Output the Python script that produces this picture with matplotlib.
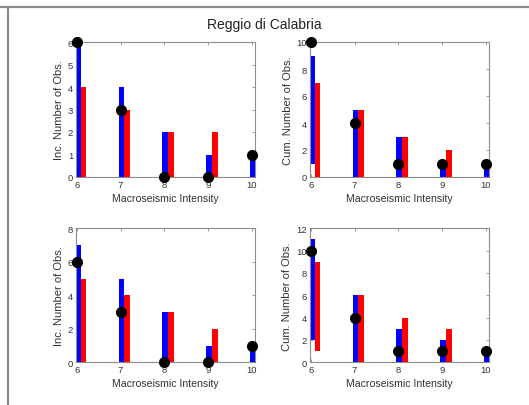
import matplotlib
matplotlib.use("Agg")
import matplotlib.pyplot as plt
from matplotlib.lines import Line2D
import numpy as np

plt.rcParams['font.family'] = ['Liberation Sans', 'DejaVu Sans']

intensity = [6, 7, 8, 9, 10]
title = "Reggio di Calabria"
xlabel = "Macroseismic Intensity"

# Incremental counts (top row)
inc_top_blue = [6, 4, 2, 1, 1]
inc_top_red = [4, 3, 2, 2, 0]
inc_top_obs = [6, 3, 0, 0, 1]

# Cumulative counts (top row); bars at intensity 6 start above zero
cum_top_blue = [9, 5, 3, 1, 1]
cum_top_blue_base = [1, 0, 0, 0, 0]
cum_top_red = [7, 5, 3, 2, 0]
cum_top_red_base = [0, 0, 0, 0, 0]
cum_top_obs = [10, 4, 1, 1, 1]

# Incremental counts (bottom row)
inc_bot_blue = [7, 5, 3, 1, 1]
inc_bot_red = [5, 4, 3, 2, 0]
inc_bot_obs = [6, 3, 0, 0, 1]

# Cumulative counts (bottom row)
cum_bot_blue = [11, 6, 3, 2, 1]
cum_bot_blue_base = [2, 0, 0, 0, 0]
cum_bot_red = [9, 6, 4, 3, 0]
cum_bot_red_base = [1, 0, 0, 0, 0]
cum_bot_obs = [10, 4, 1, 1, 1]

W, H = 529, 406
fig = plt.figure(figsize=(W / 100, H / 100), dpi=100)

# Frame lines along the top and left of the figure
fig.add_artist(Line2D([0, 1], [1 - 7.5 / H, 1 - 7.5 / H], color='#8a8a8a', lw=1.6,
                      transform=fig.transFigure))
fig.add_artist(Line2D([7.5 / W, 7.5 / W], [0, 1 - 7.5 / H], color='#8a8a8a', lw=1.6,
                      transform=fig.transFigure))

fig.text(0.5, 1 - 25 / H, title, ha='center', va='center', fontsize=10, color='#222222')

spine_col = '#8c8c8c'
text_col = '#333333'


def panel(rect, blue, red, obs, ylabel, ymax, ystep, blue_base=None, red_base=None):
    ax = fig.add_axes(rect)
    x = np.array(intensity, dtype=float)
    bw = 0.13
    bb = blue_base if blue_base is not None else [0] * len(x)
    rb = red_base if red_base is not None else [0] * len(x)
    bh = np.array(blue) - np.array(bb)
    rh = np.array(red) - np.array(rb)
    ax.bar(x + 0.02, bh, width=bw, bottom=bb, color='#0000ff', linewidth=0, zorder=2)
    ax.bar(x + 0.02 + bw, rh, width=bw, bottom=rb, color='#ff0000', linewidth=0, zorder=2)
    ax.plot(x, obs, 'o', color='black', markersize=7, zorder=4, clip_on=False)
    ax.set_xlim(5.98, 10.07)
    ax.set_ylim(0, ymax)
    ax.set_xticks(intensity)
    ax.set_xticklabels([str(v) for v in intensity])
    ax.set_yticks(np.arange(0, ymax + 0.01, ystep))
    ax.tick_params(direction='in', length=2.5, width=0.6, colors=spine_col,
                   labelcolor=text_col, labelsize=6.8, top=True, right=True, pad=2)
    for s in ax.spines.values():
        s.set_color(spine_col)
        s.set_linewidth(0.8)
    ax.set_xlabel(xlabel, fontsize=7.6, color=text_col, labelpad=3)
    ax.set_ylabel(ylabel, fontsize=8.0, color=text_col, labelpad=3)
    return ax


lx, rx, aw = 76 / W, 310 / W, 179 / W
ty, th = 1 - 178 / H, 135 / H
by, bh_ = 1 - 363.3 / H, 134 / H

panel([lx, ty, aw, th], inc_top_blue, inc_top_red, inc_top_obs,
      "Inc. Number of Obs.", 6, 1)
panel([rx, ty, aw, th], cum_top_blue, cum_top_red, cum_top_obs,
      "Cum. Number of Obs.", 10, 2, cum_top_blue_base, cum_top_red_base)
panel([lx, by, aw, bh_], inc_bot_blue, inc_bot_red, inc_bot_obs,
      "Inc. Number of Obs.", 8, 2)
panel([rx, by, aw, bh_], cum_bot_blue, cum_bot_red, cum_bot_obs,
      "Cum. Number of Obs.", 12, 2, cum_bot_blue_base, cum_bot_red_base)

fig.savefig("out.png", dpi=100)
